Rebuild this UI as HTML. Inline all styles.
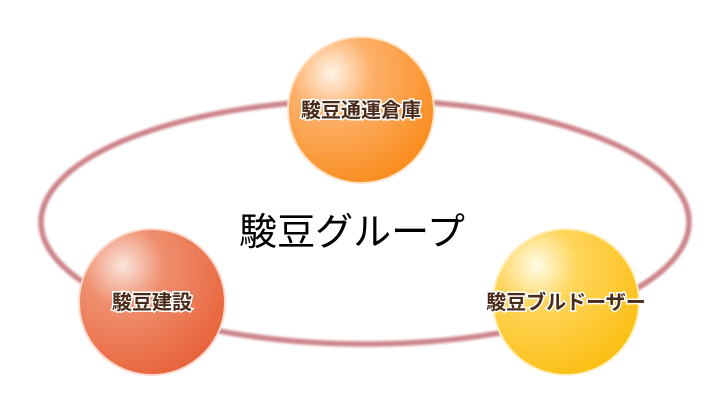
<!DOCTYPE html>
<html><head><meta charset="utf-8"><style>
body{margin:0;background:#fff;width:721px;height:411px;overflow:hidden}
text{font-family:"Liberation Sans","Noto Sans CJK JP",sans-serif}
</style></head><body>
<svg width="721" height="411" viewBox="0 0 721 411" xmlns="http://www.w3.org/2000/svg">
<defs>
<filter id="bl"><feGaussianBlur stdDeviation="1.2"/></filter>
<radialGradient id="g1" cx="0.3" cy="0.25" r="0.8">
<stop offset="0" stop-color="#fff3e6"/><stop offset="0.35" stop-color="#fdb06a"/><stop offset="1" stop-color="#f98d1e"/></radialGradient>
<radialGradient id="g2" cx="0.3" cy="0.25" r="0.8">
<stop offset="0" stop-color="#fbe4dc"/><stop offset="0.35" stop-color="#ef8f6e"/><stop offset="1" stop-color="#e8643c"/></radialGradient>
<radialGradient id="g3" cx="0.3" cy="0.25" r="0.8">
<stop offset="0" stop-color="#fffbe8"/><stop offset="0.35" stop-color="#ffd55a"/><stop offset="1" stop-color="#fbbf14"/></radialGradient>
</defs>
<ellipse cx="365" cy="222" rx="324" ry="122" fill="none" stroke="#cc8489" stroke-width="5.5" filter="url(#bl)"/>
<text x="352" y="245" font-size="38" text-anchor="middle" fill="#000">駿豆グループ</text>
<circle cx="361" cy="110" r="73" fill="url(#g1)" stroke="#ffe2c8" stroke-width="2"/>
<circle cx="152" cy="302" r="73" fill="url(#g2)" stroke="#fbd8cc" stroke-width="2"/>
<circle cx="566" cy="302" r="73" fill="url(#g3)" stroke="#fff0c0" stroke-width="2"/>
<g font-size="20" font-weight="bold" text-anchor="middle" fill="#4a2a18" stroke="#fff" stroke-width="3" paint-order="stroke">
<text x="361" y="117">駿豆通運倉庫</text>
<text x="152" y="309">駿豆建設</text>
<text x="566" y="309">駿豆ブルドーザー</text>
</g>
</svg>
</body></html>
